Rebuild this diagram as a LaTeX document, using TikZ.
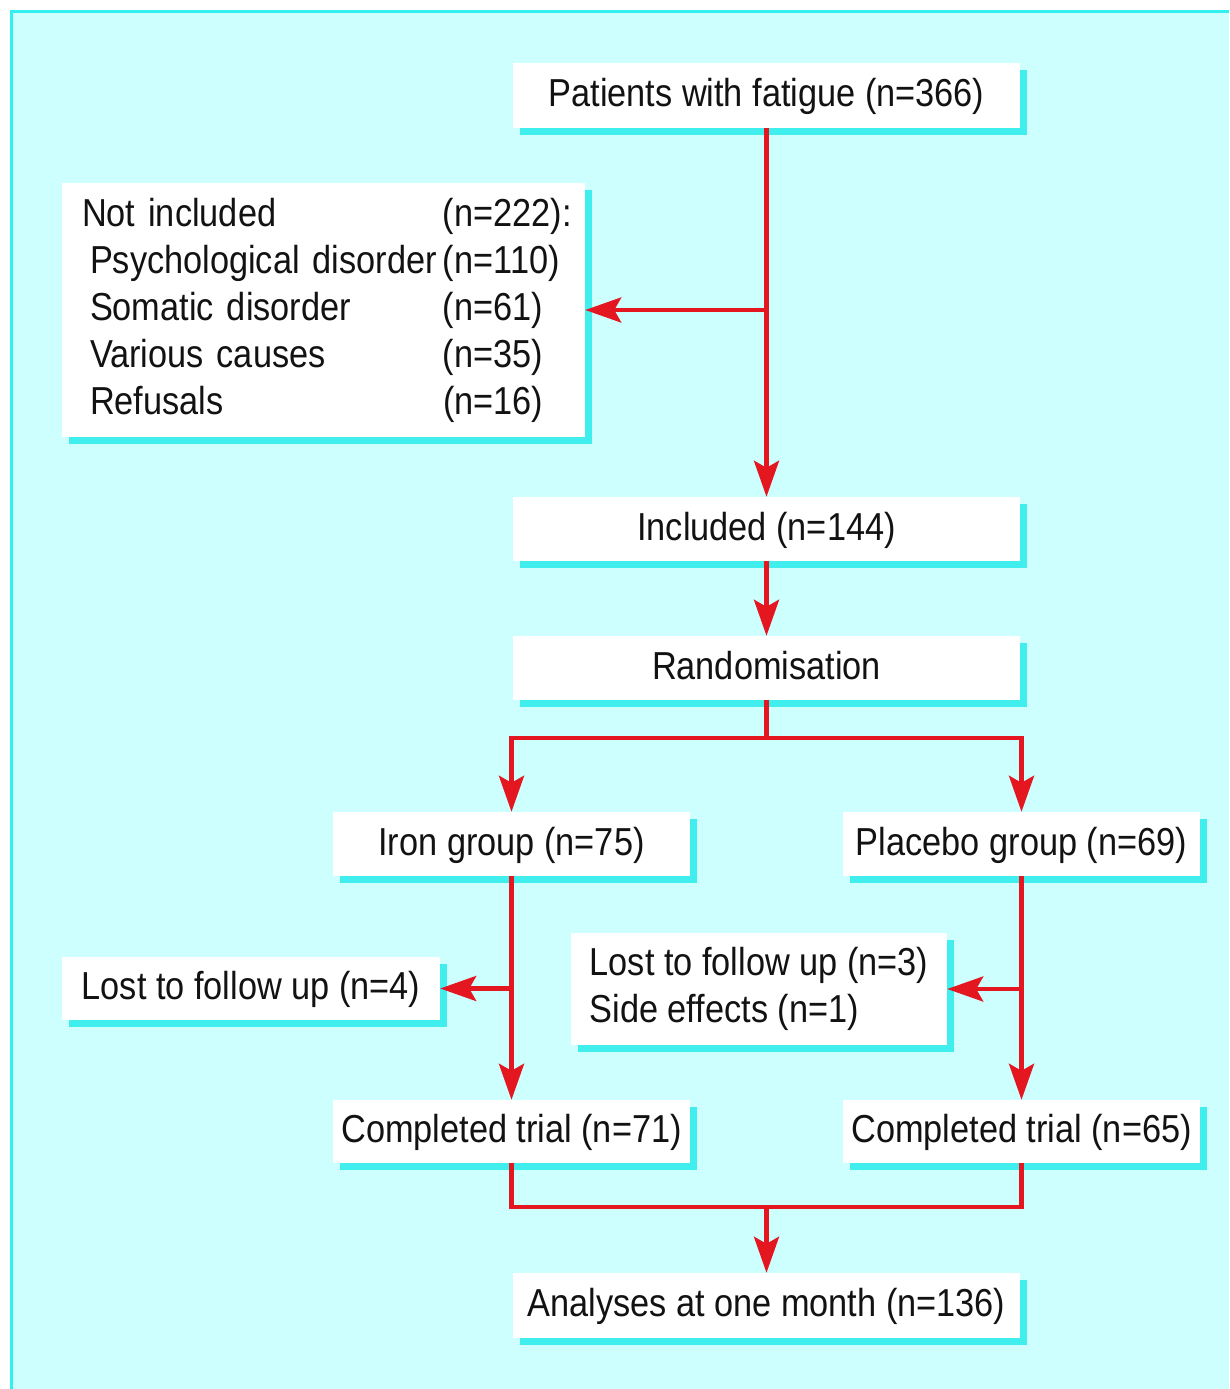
\documentclass[tikz,border=0pt]{standalone}
\usepackage{fontspec}
\setmainfont{Liberation Sans}[FakeStretch=0.88]
\usetikzlibrary{arrows.meta,shadows}
\definecolor{bgcyan}{RGB}{205,255,255}
\definecolor{bordercyan}{RGB}{50,240,240}
\definecolor{shadowcyan}{RGB}{64,238,238}
\definecolor{linered}{RGB}{228,22,32}
\definecolor{txt}{RGB}{18,18,18}
\tikzset{
  box/.style={fill=white, draw=none, inner sep=0pt, text=txt,
    font=\fontsize{39}{47}\selectfont,
    drop shadow={shadow xshift=7pt, shadow yshift=-7pt, fill=shadowcyan, opacity=1}},
  onebox/.style={box, text height=30pt, text depth=8pt},
  conn/.style={draw=linered, line width=4.5pt, line join=miter},
  tip/.tip={Stealth[length=36pt, width=25pt, inset=7pt]},
  arr/.style={conn, -tip}
}
\begin{document}
\begin{tikzpicture}[x=1pt, y=-1pt]
\useasboundingbox (0,0) rectangle (1229,1389);
\fill[white] (0,0) rectangle (1229,1389);
\fill[bgcyan] (10,10) rectangle (1229,1389);
\draw[bordercyan, line width=3pt] (11.5,1389) -- (11.5,11.5) -- (1229,11.5);

\node[onebox, minimum width=507pt, minimum height=65pt] (pat) at (766.5,95.5) {Patients with fatigue (n=366)};
\node[box, minimum width=523pt, minimum height=254pt, text width=483pt, align=left, inner xsep=20pt] (notinc) at (323.5,310)
  {\makebox[361pt][l]{Not included}(n=222):\\
   \hspace*{8pt}\makebox[353pt][l]{Psychological disorder}(n=110)\\
   \hspace*{8pt}\makebox[353pt][l]{Somatic disorder}(n=61)\\
   \hspace*{8pt}\makebox[353pt][l]{Various causes}(n=35)\\
   \hspace*{8pt}\makebox[353pt][l]{Refusals}(n=16)};
\node[onebox, minimum width=507pt, minimum height=64pt] (inc) at (766.5,529) {Included (n=144)};
\node[onebox, minimum width=507pt, minimum height=64pt] (rand) at (766.5,668) {Randomisation};
\node[onebox, minimum width=357pt, minimum height=64pt] (iron) at (511.5,844) {Iron group (n=75)};
\node[onebox, minimum width=357pt, minimum height=64pt] (plac) at (1021.5,844) {Placebo group (n=69)};
\node[onebox, minimum width=378pt, minimum height=63pt] (lost4) at (251,988.5) {Lost to follow up (n=4)};
\node[box, minimum width=376pt, minimum height=112pt, align=left] (lost3) at (759,989)
  {Lost to follow up (n=3)\\Side effects (n=1)};
\node[onebox, minimum width=357pt, minimum height=63pt] (comp1) at (511.5,1131.5) {Completed trial (n=71)};
\node[onebox, minimum width=357pt, minimum height=63pt] (comp2) at (1021.5,1131.5) {Completed trial (n=65)};
\node[onebox, minimum width=507pt, minimum height=65pt] (anal) at (766.5,1305.5) {Analyses at one month (n=136)};

\coordinate (rsplit) at (766.5,738);
\coordinate (msplit) at (766.5,1207);

\draw[arr] (pat.south) -- (inc.north);
\draw[arr] (pat.south |- notinc.east) -- (notinc.east);
\draw[arr] (inc.south) -- (rand.north);
\draw[conn] (rand.south) -- (rsplit);
\draw[arr] (rsplit) -| (iron.north);
\draw[arr] (rsplit) -| (plac.north);
\draw[arr] (iron.south) -- (comp1.north);
\draw[arr] (iron.south |- lost4.east) -- (lost4.east);
\draw[arr] (plac.south) -- (comp2.north);
\draw[arr] (plac.south |- lost3.east) -- (lost3.east);
\draw[conn] (comp1.south) |- (msplit) -| (comp2.south);
\draw[arr] (msplit) -- (anal.north);
\end{tikzpicture}
\end{document}
